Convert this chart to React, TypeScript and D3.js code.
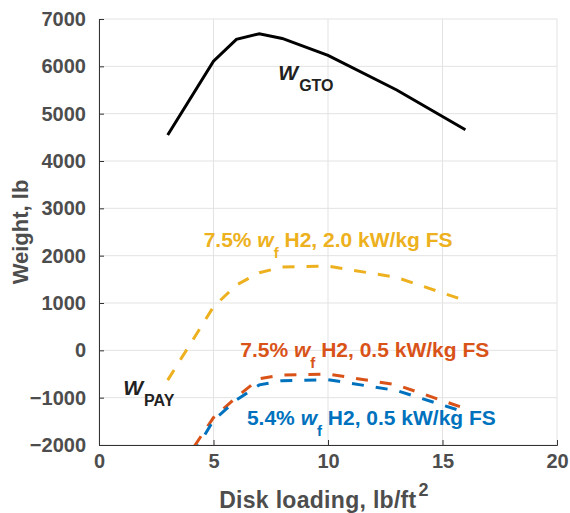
import React, { useEffect, useRef } from 'react';
import * as d3 from 'd3';

// disk loading (lb/ft^2) at which each design was sized
const diskLoading = [3, 5, 6, 7, 8, 10, 13, 16];
// gross takeoff weight, lb
const wGTO = [4550, 6110, 6570, 6690, 6590, 6230, 5500, 4660];
// payload weight, lb, for each fuel-system case
const wPayH2Fs20 = [-630, 920, 1380, 1640, 1760, 1780, 1540, 1050];
const wPayH2Fs05 = [-2870, -1420, -990, -600, -520, -500, -730, -1230];
const wPay54Fs05 = [-3080, -1480, -1050, -730, -640, -620, -850, -1310];

const xTicks = [0, 5, 10, 15, 20];
const yTicks = [-2000, -1000, 0, 1000, 2000, 3000, 4000, 5000, 6000, 7000];

const W = 570;
const H = 513;
const margin = { top: 19, right: 13, bottom: 68, left: 99 };

const FONT = '"Liberation Sans", Arial, Helvetica, sans-serif';
const TEXT = '#4d4d4d';
const AXIS = '#333333';
const GRID = '#e3e3e3';

const BLUE = '#0072BD';
const ORANGE = '#D95319';
const YELLOW = '#EDB120';

export default function App() {
  const svgRef = useRef<SVGSVGElement | null>(null);

  useEffect(() => {
    if (!svgRef.current) return;
    const svg = d3.select(svgRef.current);
    svg.selectAll('*').remove();

    const x = d3.scaleLinear().domain([0, 20]).range([margin.left, W - margin.right]);
    const y = d3.scaleLinear().domain([-2000, 7000]).range([H - margin.bottom, margin.top]);

    svg.append('rect').attr('width', W).attr('height', H).attr('fill', '#fff');

    svg.append('defs').append('clipPath').attr('id', 'plot-clip')
      .append('rect')
      .attr('x', margin.left).attr('y', margin.top)
      .attr('width', x(20) - x(0)).attr('height', y(-2000) - y(7000));

    // grid
    const grid = svg.append('g');
    xTicks.forEach(t => {
      grid.append('line')
        .attr('x1', x(t)).attr('x2', x(t))
        .attr('y1', y(7000)).attr('y2', y(-2000))
        .attr('stroke', GRID).attr('stroke-width', 1);
    });
    yTicks.forEach(t => {
      grid.append('line')
        .attr('x1', x(0)).attr('x2', x(20))
        .attr('y1', y(t)).attr('y2', y(t))
        .attr('stroke', GRID).attr('stroke-width', 1);
    });

    // y axis
    svg.append('g')
      .attr('transform', `translate(${x(0)},0)`)
      .call(d3.axisLeft(y).tickValues(yTicks).tickSize(-5).tickPadding(13)
        .tickFormat(d => d3.format('d')(d as number).replace('-', '\u2212')))
      .call(g => g.select('.domain').attr('stroke', AXIS))
      .call(g => g.selectAll('.tick line').attr('stroke', AXIS))
      .call(g => g.selectAll('.tick text')
        .attr('fill', TEXT).style('font-family', FONT)
        .style('font-size', '20px').style('font-weight', 'bold'));

    // x axis
    svg.append('g')
      .attr('transform', `translate(0,${y(-2000)})`)
      .call(d3.axisBottom(x).tickValues(xTicks).tickSize(-5).tickPadding(9))
      .call(g => g.select('.domain').attr('stroke', AXIS))
      .call(g => g.selectAll('.tick line').attr('stroke', AXIS))
      .call(g => g.selectAll('.tick text')
        .attr('fill', TEXT).style('font-family', FONT)
        .style('font-size', '20px').style('font-weight', 'bold'));

    // axis titles
    const xt = svg.append('text')
      .attr('x', (x(0) + x(20)) / 2 - 4).attr('y', 508)
      .attr('text-anchor', 'middle')
      .attr('fill', TEXT).style('font-family', FONT)
      .style('font-size', '23px').style('font-weight', 'bold')
      .style('letter-spacing', '0.3px');
    xt.append('tspan').text('Disk loading, lb/ft');
    xt.append('tspan').attr('dy', -12).attr('dx', 2).style('font-size', '18px').text('2');

    svg.append('text')
      .attr('transform', `translate(28,${(y(7000) + y(-2000)) / 2}) rotate(-90)`)
      .attr('text-anchor', 'middle')
      .attr('fill', TEXT).style('font-family', FONT)
      .style('font-size', '22px').style('font-weight', 'bold')
      .text('Weight, lb');

    // curves
    const plot = svg.append('g').attr('clip-path', 'url(#plot-clip)');
    const line = d3.line<number>()
      .x((_, i) => x(diskLoading[i]))
      .y(d => y(d));

    const series = [
      { values: wGTO, color: '#000', dash: null },
      { values: wPayH2Fs20, color: YELLOW, dash: '12,12' },
      { values: wPayH2Fs05, color: ORANGE, dash: '12,12' },
      { values: wPay54Fs05, color: BLUE, dash: '12,12' },
    ];
    series.forEach(s => {
      plot.append('path')
        .datum(s.values)
        .attr('d', line)
        .attr('fill', 'none')
        .attr('stroke', s.color)
        .attr('stroke-width', 3)
        .attr('stroke-dasharray', s.dash);
    });

    // annotations
    const wLabel = (px: number, py: number, sub: string) => {
      const t = svg.append('text')
        .attr('x', x(px)).attr('y', y(py))
        .attr('fill', '#222').style('font-family', FONT).style('font-weight', 'bold');
      t.append('tspan').style('font-style', 'italic').style('font-size', '21px').text('W');
      t.append('tspan').attr('dy', 11).attr('dx', 1).style('font-size', '16px').text(sub);
    };
    wLabel(7.83, 5711, 'GTO');
    wLabel(1.06, -944, 'PAY');

    const caseLabel = (px: number, py: number, pre: string, post: string, color: string) => {
      const t = svg.append('text')
        .attr('x', x(px)).attr('y', y(py))
        .attr('fill', color).style('font-family', FONT)
        .style('font-weight', 'bold').style('font-size', '21px');
      t.append('tspan').text(pre + ' ');
      t.append('tspan').style('font-style', 'italic').text('w');
      t.append('tspan').attr('dy', 11).style('font-size', '15px').text('f');
      t.append('tspan').attr('dy', -11).text(' ' + post);
    };
    caseLabel(4.57, 2189, '7.5%', 'H2, 2.0 kW/kg FS', YELLOW);
    caseLabel(6.17, -135, '7.5%', 'H2, 0.5 kW/kg FS', ORANGE);
    caseLabel(6.46, -1578, '5.4%', 'H2, 0.5 kW/kg FS', BLUE);
  }, []);

  return (
    <div style={{ position: 'absolute', left: 0, top: 0 }}>
      <svg ref={svgRef} width={W} height={H} style={{ display: 'block' }} />
    </div>
  );
}
